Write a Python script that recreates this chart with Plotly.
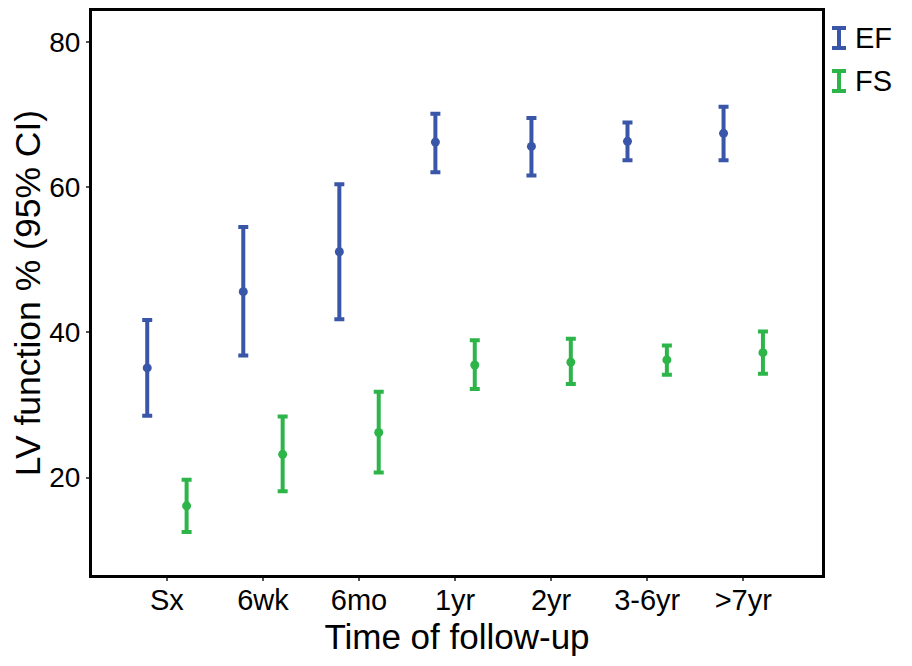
import numpy as np
import plotly.graph_objects as go

categories = ["Sx", "6wk", "6mo", "1yr", "2yr", "3-6yr", ">7yr"]

ef_mean = [35.1, 45.6, 51.1, 66.2, 65.6, 66.3, 67.4]
ef_upper = [41.7, 54.5, 60.4, 70.1, 69.5, 68.9, 71.05]
ef_lower = [28.5, 36.8, 41.8, 62.05, 61.6, 63.7, 63.7]

fs_mean = [16.1, 23.2, 26.2, 35.5, 35.9, 36.2, 37.2]
fs_upper = [19.7, 28.4, 31.8, 38.9, 39.1, 38.2, 40.1]
fs_lower = [12.5, 18.1, 20.7, 32.2, 32.9, 34.15, 34.3]

y_ticks = [20, 40, 60, 80]

blue = "#3A56A8"
green = "#2DB54A"
offset = 0.205

idx = np.arange(len(categories))


def add_series(x, mean, upper, lower, color, name):
    mean = np.array(mean)
    fig.add_trace(go.Scatter(
        x=x, y=mean, mode="markers", name=name, showlegend=False,
        marker=dict(color=color, size=9),
        error_y=dict(type="data", symmetric=False,
                     array=np.array(upper) - mean,
                     arrayminus=mean - np.array(lower),
                     color=color, thickness=4, width=5),
    ))


fig = go.Figure()
add_series(idx - offset, ef_mean, ef_upper, ef_lower, blue, "EF")
add_series(idx + offset, fs_mean, fs_upper, fs_lower, green, "FS")

font = "Liberation Sans, Arial, sans-serif"

fig.update_layout(
    width=912, height=666,
    margin=dict(l=84, r=98, t=0, b=99),
    paper_bgcolor="white", plot_bgcolor="white",
    font=dict(family=font, color="black", size=28),
    showlegend=False,
)
fig.update_xaxes(
    range=[-0.78, 6.82], tickvals=idx, ticktext=categories,
    showgrid=False, zeroline=False,
    showline=True, linecolor="black", linewidth=3, mirror=True,
    ticks="outside", ticklen=3, tickwidth=2, tickcolor="#555",
    tickfont=dict(size=29), ticklabelstandoff=-6,
    title=dict(text="Time of follow-up", font=dict(size=35), standoff=10),
)
fig.update_yaxes(
    range=[6.58, 84.25], tickvals=y_ticks,
    showgrid=False, zeroline=False,
    showline=True, linecolor="black", linewidth=3, mirror=True,
    ticks="outside", ticklen=3, tickwidth=2, tickcolor="#555",
    tickfont=dict(size=28),
    title=dict(text="LV function % (95% CI)", font=dict(size=35.5), standoff=6),
)

# legend: I-beam glyphs + labels outside the plot, top right
legend_items = [("EF", blue, -27), ("FS", green, -70)]
for name, color, ycen in legend_items:
    half_h, half_w, cx = 10, 7, 17
    line = dict(color=color, width=4)
    common = dict(xref="paper", yref="paper", xsizemode="pixel", ysizemode="pixel",
                  xanchor=1, yanchor=1, line=line, type="line")
    fig.add_shape(x0=cx, x1=cx, y0=ycen - half_h, y1=ycen + half_h, **common)
    fig.add_shape(x0=cx - half_w, x1=cx + half_w, y0=ycen + half_h, y1=ycen + half_h, **common)
    fig.add_shape(x0=cx - half_w, x1=cx + half_w, y0=ycen - half_h, y1=ycen - half_h, **common)
    fig.add_annotation(xref="paper", yref="paper", x=1.0, y=1.0,
                       xanchor="left", yanchor="middle", xshift=31, yshift=ycen,
                       text=name, showarrow=False,
                       font=dict(family=font, size=29, color="black"))

fig.write_html("out.html")
